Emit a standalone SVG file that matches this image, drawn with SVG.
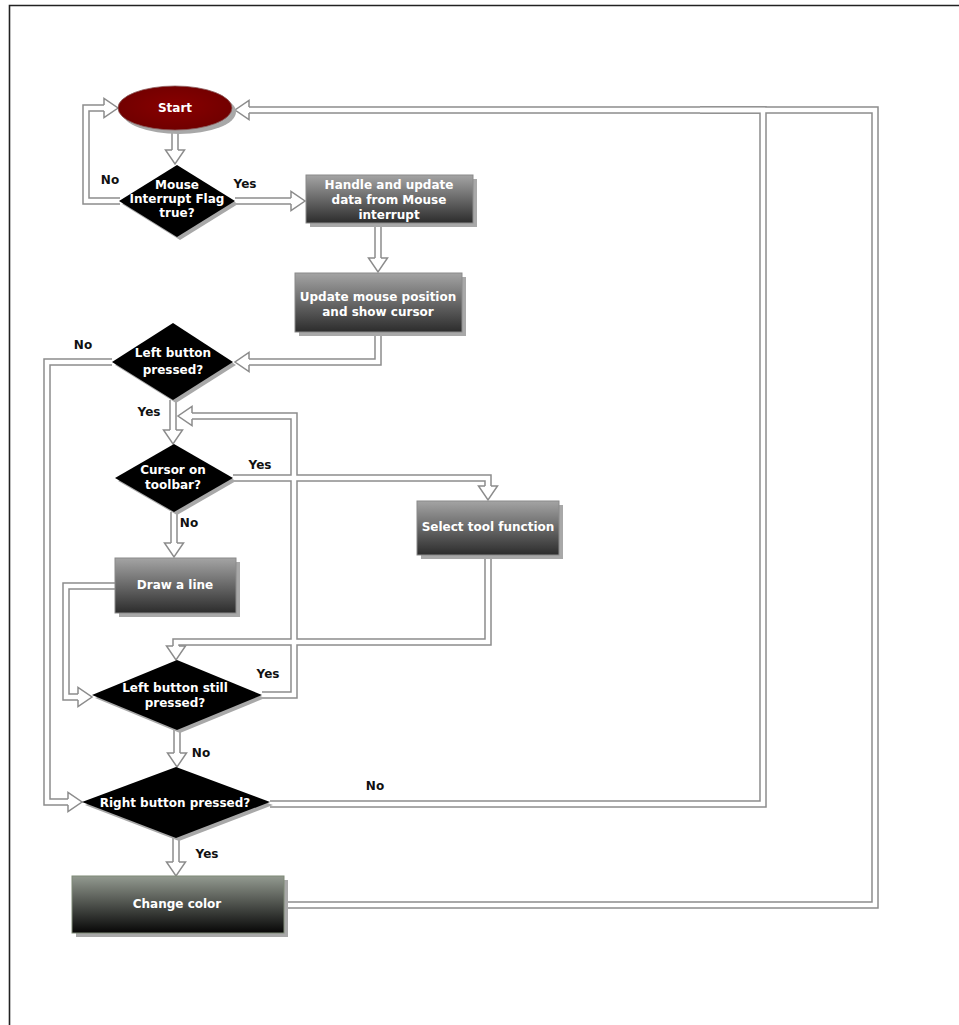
<svg xmlns="http://www.w3.org/2000/svg" width="959" height="1025" viewBox="0 0 959 1025">
<style>
.frame{fill:none;stroke:#222;stroke-width:1.6}
.sh{fill:#a8a8a8}
.dia{fill:#000}
.box{fill:url(#gBox);stroke:#8a8a8a;stroke-width:1}
.box5{fill:url(#gBox5);stroke:#7e8a76;stroke-width:1}
.t{font-family:"DejaVu Sans",Verdana,sans-serif;font-weight:bold;font-size:12px;fill:#fff;text-anchor:middle}
.lbl{font-family:"DejaVu Sans",Verdana,sans-serif;font-weight:bold;font-size:12px;fill:#111;text-anchor:middle}
.cg{fill:none;stroke:#8c8c8c;stroke-width:7.5;stroke-linejoin:miter}
.cw{fill:none;stroke:#fff;stroke-width:4.5;stroke-linejoin:miter}
</style>
<defs>
<linearGradient id="gBox" x1="0" y1="0" x2="0" y2="1">
<stop offset="0" stop-color="#a4a4a4"/>
<stop offset="1" stop-color="#2c2c2c"/>
</linearGradient>
<linearGradient id="gBox5" x1="0" y1="0" x2="0" y2="1">
<stop offset="0" stop-color="#939a90"/>
<stop offset="1" stop-color="#060606"/>
</linearGradient>
<radialGradient id="gStart" cx="0.5" cy="0.45" r="0.6">
<stop offset="0" stop-color="#880000"/>
<stop offset="1" stop-color="#6e0000"/>
</radialGradient>
<g id="ah">
<path d="M0,0 L-14,-9.5 L-14,9.5 Z" fill="#fff"/>
<path d="M-14,-3 L-14,-9.5 L0,0 L-14,9.5 L-14,3" fill="none" stroke="#8c8c8c" stroke-width="1.5"/>
</g>
</defs>
<rect width="959" height="1025" fill="#fff"/>
<path class="frame" d="M9.5,1025 V5.5 H959"/>

<g id="connectors">
<g id="conn-gray">
<path class="cg" d="M175,131 V150"/>
<path class="cg" d="M120,201 H86 V108 H104"/>
<path class="cg" d="M235,201 H291"/>
<path class="cg" d="M378,223 V258"/>
<path class="cg" d="M378,332 V362 H249"/>
<path class="cg" d="M112,362 H47 V802 H68"/>
<path class="cg" d="M173,400 V430"/>
<path class="cg" d="M262,695 H294 V416 H192"/>
<path class="cg" d="M233,478 H488 V486"/>
<path class="cg" d="M174,512 V543"/>
<path class="cg" d="M115,586 H66 V697 H78"/>
<path class="cg" d="M488,555 V642 H176 V646"/>
<path class="cg" d="M177,730 V753"/>
<path class="cg" d="M270,804 H763 V110 H249"/>
<path class="cg" d="M176,838 V862"/>
<path class="cg" d="M284,905 H875 V110 H700"/>
</g>
<g id="conn-white">
<path class="cw" d="M175,131 V150"/>
<path class="cw" d="M120,201 H86 V108 H104"/>
<path class="cw" d="M235,201 H291"/>
<path class="cw" d="M378,223 V258"/>
<path class="cw" d="M378,332 V362 H249"/>
<path class="cw" d="M112,362 H47 V802 H68"/>
<path class="cw" d="M173,400 V430"/>
<path class="cw" d="M262,695 H294 V416 H192"/>
<path class="cw" d="M233,478 H488 V486"/>
<path class="cw" d="M174,512 V543"/>
<path class="cw" d="M115,586 H66 V697 H78"/>
<path class="cw" d="M488,555 V642 H176 V646"/>
<path class="cw" d="M177,730 V753"/>
<path class="cw" d="M270,804 H763 V110 H249"/>
<path class="cw" d="M176,838 V862"/>
<path class="cw" d="M284,905 H875 V110 H700"/>
</g>
<g id="arrowheads">
<use href="#ah" transform="translate(175,164) rotate(90)"/>
<use href="#ah" transform="translate(118,108)"/>
<use href="#ah" transform="translate(305,201)"/>
<use href="#ah" transform="translate(378,272) rotate(90)"/>
<use href="#ah" transform="translate(235,362) rotate(180)"/>
<use href="#ah" transform="translate(82,802)"/>
<use href="#ah" transform="translate(173,444) rotate(90)"/>
<use href="#ah" transform="translate(178,416) rotate(180)"/>
<use href="#ah" transform="translate(488,500) rotate(90)"/>
<use href="#ah" transform="translate(174,557) rotate(90)"/>
<use href="#ah" transform="translate(92,697)"/>
<use href="#ah" transform="translate(176,660) rotate(90)"/>
<use href="#ah" transform="translate(177,767) rotate(90)"/>
<use href="#ah" transform="translate(235,110) rotate(180)"/>
<use href="#ah" transform="translate(176,876) rotate(90)"/>
</g>
<g id="conn-labels">
<text class="lbl" x="110" y="184">No</text>
<text class="lbl" x="245" y="188">Yes</text>
<text class="lbl" x="83" y="349">No</text>
<text class="lbl" x="149" y="416">Yes</text>
<text class="lbl" x="260" y="469">Yes</text>
<text class="lbl" x="189" y="527">No</text>
<text class="lbl" x="268" y="678">Yes</text>
<text class="lbl" x="201" y="757">No</text>
<text class="lbl" x="375" y="790">No</text>
<text class="lbl" x="207" y="858">Yes</text>
</g>
</g>

<g id="n-start">
<ellipse class="sh" cx="179" cy="112" rx="57" ry="22"/>
<ellipse cx="175" cy="108" rx="57" ry="22" fill="url(#gStart)" stroke="#8a5a5a" stroke-width="0.8"/>
<text class="t" x="175" y="112">Start</text>
</g>

<g id="n-mouseflag">
<polygon class="sh" points="180,168 238,204 180,240 122,204"/>
<polygon class="dia" points="177,165 235,201 177,237 119,201"/>
<text class="t" x="177" y="189">Mouse</text>
<text class="t" x="177" y="203">Interrupt Flag</text>
<text class="t" x="177" y="217">true?</text>
</g>

<g id="n-handle">
<rect class="sh" x="310" y="179" width="167" height="48"/>
<rect class="box" x="306" y="175" width="167" height="48"/>
<text class="t" x="389" y="189">Handle and update</text>
<text class="t" x="389" y="204">data from Mouse</text>
<text class="t" x="389" y="219">interrupt</text>
</g>

<g id="n-update">
<rect class="sh" x="299" y="277" width="167" height="59"/>
<rect class="box" x="295" y="273" width="167" height="59"/>
<text class="t" x="378" y="301">Update mouse position</text>
<text class="t" x="378" y="316">and show cursor</text>
</g>

<g id="n-leftbtn">
<polygon class="sh" points="176,326 236,365 176,403 115,365"/>
<polygon class="dia" points="173,323 233,362 173,400 112,362"/>
<text class="t" x="173" y="357">Left button</text>
<text class="t" x="173" y="374">pressed?</text>
</g>

<g id="n-cursor">
<polygon class="sh" points="177,447 236,481 177,515 118,481"/>
<polygon class="dia" points="174,444 233,478 174,512 115,478"/>
<text class="t" x="173" y="474">Cursor on</text>
<text class="t" x="173" y="489">toolbar?</text>
</g>

<g id="n-select">
<rect class="sh" x="421" y="505" width="142" height="54"/>
<rect class="box" x="417" y="501" width="142" height="54"/>
<text class="t" x="488" y="531">Select tool function</text>
</g>

<g id="n-draw">
<rect class="sh" x="119" y="562" width="121" height="55"/>
<rect class="box" x="115" y="558" width="121" height="55"/>
<text class="t" x="175" y="589">Draw a line</text>
</g>

<g id="n-leftstill">
<polygon class="sh" points="180,663 265,698 180,733 95,698"/>
<polygon class="dia" points="177,660 262,695 177,730 92,695"/>
<text class="t" x="175" y="692">Left button still</text>
<text class="t" x="175" y="707">pressed?</text>
</g>

<g id="n-rightbtn">
<polygon class="sh" points="179,770 273,805 179,841 85,805"/>
<polygon class="dia" points="176,767 270,802 176,838 82,802"/>
<text class="t" x="175" y="807">Right button pressed?</text>
</g>

<g id="n-change">
<rect class="sh" x="76" y="880" width="212" height="57" fill="#b4b8b0"/>
<rect class="box5" x="72" y="876" width="212" height="57"/>
<text class="t" x="177" y="908">Change color</text>
</g>
</svg>
